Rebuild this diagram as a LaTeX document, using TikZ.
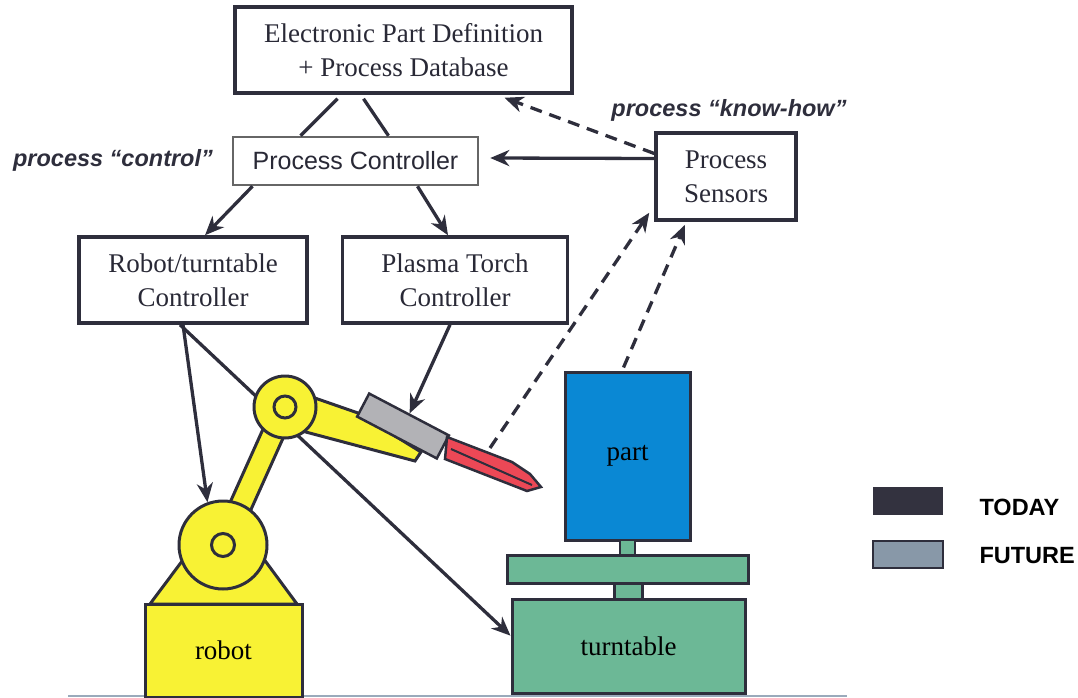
\documentclass[tikz,border=0pt]{standalone}
\usepackage{fontspec}
\setmainfont{Liberation Serif}
\setsansfont{Liberation Sans}
\usetikzlibrary{arrows.meta,calc,positioning}

\definecolor{ink}{HTML}{2E2E3C}
\definecolor{armyellow}{HTML}{F8F234}
\definecolor{partblue}{HTML}{0A88D4}
\definecolor{tablegreen}{HTML}{6CB896}
\definecolor{nozzlered}{HTML}{EC4856}
\definecolor{torchgray}{HTML}{B2B2B6}
\definecolor{todaycol}{HTML}{33323F}
\definecolor{futurecol}{HTML}{8898A8}
\definecolor{groundcol}{HTML}{9AAABB}

\tikzset{
  block/.style={draw=ink, line width=3.5pt, fill=white, align=center, inner sep=0pt,
    font=\fontsize{27}{34}\selectfont, text=ink!90!black},
  flow/.style={draw=ink, line width=3.3pt, -{Stealth[length=19pt,width=16pt,inset=6pt]}},
  know/.style={flow, dash pattern=on 12pt off 8pt},
  link/.style={draw=ink, line width=3.3pt},
  bodyshape/.style={draw=ink, line width=3pt, inner sep=0pt, font=\fontsize{27}{34}\selectfont},
  joint/.style={circle, draw=ink, line width=3pt, fill=armyellow, inner sep=0pt},
  tag/.style={font=\sffamily\bfseries\itshape\fontsize{23.5}{28}\selectfont, text=ink},
  keytext/.style={font=\sffamily\bfseries\fontsize{23.5}{28}\selectfont, anchor=west}
}

\begin{document}
\begin{tikzpicture}[x=1pt, y=-1pt]
  \useasboundingbox (0,0) rectangle (1078,698);

  % floor
  \draw[groundcol, line width=2pt] (68,696) -- (847,696);

  % controllers
  \node[block, minimum width=337pt, minimum height=86pt] (epd) at (403.5,50)
    {Electronic Part Definition\\+ Process Database};
  \node[block, draw=gray!80!black, line width=2.5pt, font=\sffamily\fontsize{25}{28}\selectfont,
    minimum width=245pt, minimum height=48pt] (pctrl) at (355.5,161) {Process Controller};
  \node[block, minimum width=228pt, minimum height=86pt] (robctrl) at (193,280)
    {Robot/turntable\\Controller};
  \node[block, minimum width=225pt, minimum height=86pt, right=32pt of robctrl] (plasma)
    {Plasma Torch\\Controller};
  \node[block, minimum width=140pt, minimum height=87pt] (sensors) at (726,176.5)
    {Process\\Sensors};

  \node[tag] (ctrllabel) at (113,160) {process “control”};
  \node[tag] (knowlabel) at (729,110) {process “know-how”};

  % turntable with the part on it
  \node[bodyshape, fill=partblue, minimum width=125pt, minimum height=168pt] (partblock)
    at (627.5,456) {part};
  \filldraw[draw=ink, line width=2.5pt, fill=tablegreen] (620,540) rectangle (635,555);
  \filldraw[draw=ink, line width=3pt, fill=tablegreen] (507,555) rectangle (748,583);
  \filldraw[draw=ink, line width=3pt, fill=tablegreen] (614,583) rectangle (642,599);
  \node[bodyshape, fill=tablegreen, minimum width=233pt, minimum height=94pt] (turntable)
    at (628.5,646) {turntable};

  % this one runs behind the arm
  \draw[flow] ([xshift=-13pt]robctrl.south) -- (turntable.175);

  % robot
  \coordinate (shoulder) at (223,545);
  \coordinate (elbow) at (285,407);
  \filldraw[draw=ink, line width=3pt, fill=armyellow] (150,604) -- (297,604) -- (224,505) -- cycle;
  \node[bodyshape, fill=armyellow, minimum width=157pt, minimum height=93pt] (robot)
    at (223.5,650.5) {robot};
  \filldraw[draw=ink, line width=3pt, fill=armyellow]
    ($(shoulder)!11pt!90:(elbow)$) -- ($(elbow)!11pt!-90:(shoulder)$)
    -- ($(elbow)!11pt!90:(shoulder)$) -- ($(shoulder)!11pt!-90:(elbow)$) -- cycle;
  \node[joint, minimum size=88pt] (shoulderjoint) at (shoulder) {};
  \draw[ink, line width=3pt] (shoulder) circle[radius=11.5];
  \filldraw[draw=ink, line width=3pt, fill=armyellow]
    (312,397) -- (358,413) -- (421,452) -- (415,461) -- (302,431) -- cycle;
  \node[draw=ink, line width=2.5pt, fill=torchgray, minimum width=90pt, minimum height=26pt,
    inner sep=0pt, rotate=-27.7] (torch) at (403,426) {};
  \filldraw[draw=ink, line width=2.5pt, fill=nozzlered]
    (447,437) -- (512,462) -- (530,474) -- (541,487) -- (527,491) -- (445,459) -- cycle;
  \draw[ink, line width=2pt] (451,449) -- (532,485);
  \node[joint, minimum size=62pt] (elbowjoint) at (elbow) {};
  \draw[ink, line width=3pt] (elbow) circle[radius=11];
  \coordinate (flame) at (490,448);

  % control flow
  \draw[link] ([xshift=-66pt,yshift=-4pt]epd.south) -- ([xshift=-55pt]pctrl.north);
  \draw[link] ([xshift=-40pt,yshift=-4pt]epd.south) -- ([xshift=33pt]pctrl.north);
  \draw[flow] ([xshift=-103pt]pctrl.south) -- ([xshift=12pt]robctrl.north);
  \draw[flow] ([xshift=62pt]pctrl.south) -- ([xshift=-7pt]plasma.north);
  \draw[flow] ([xshift=-10pt]robctrl.south) -- (shoulderjoint.110);
  \draw[flow] ([xshift=-5pt]plasma.south) -- (torch.north);
  \draw[flow] ([yshift=18pt]sensors.west) -- ([xshift=11pt,yshift=3pt]pctrl.east);

  % sensing
  \draw[know] ([yshift=23pt]sensors.west) -- ([xshift=101pt,yshift=-3pt]epd.south);
  \draw[know] (flame) -- ([xshift=-5pt,yshift=9pt]sensors.south west);
  \draw[know] ([xshift=-4pt,yshift=3pt]partblock.north) -- ([xshift=-41pt,yshift=-3pt]sensors.south);

  % key
  \node[fill=todaycol, minimum width=70pt, minimum height=28pt, inner sep=0pt] (todaybox) at (908,501) {};
  \node[draw=ink, line width=1.5pt, fill=futurecol, minimum width=70pt, minimum height=27pt,
    inner sep=0pt] (futurebox) at (908,554.5) {};
  \node[keytext] (todaytext) at (976,507) {TODAY};
  \node[keytext] (futuretext) at (976,556) {FUTURE};
\end{tikzpicture}
\end{document}
